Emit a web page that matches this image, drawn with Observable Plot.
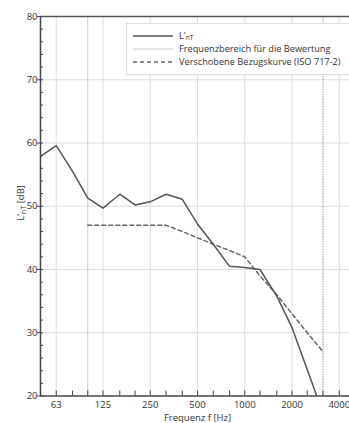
<!DOCTYPE html>
<html>
<head>
<meta charset="utf-8">
<script src="https://cdn.jsdelivr.net/npm/d3@7"></script>
<script src="https://cdn.jsdelivr.net/npm/@observablehq/plot@0.6"></script>
<style>
  html, body { margin: 0; padding: 0; background: #fff; overflow: hidden; }
  #wrap { position: relative; width: 349px; height: 423px; font-family: "Open Sans", sans-serif; }
  #legend { position: absolute; left: 126px; top: 23px; width: 240px; height: 50px; border: 1px solid #dcdcdc; background: #fff; font-size: 9.2px; color: #333; }
  .row { position: absolute; left: 0; height: 13px; display: flex; align-items: center; white-space: nowrap; }
  .row svg { margin-left: 6px; margin-right: 6px; }
  sub { font-size: 6.5px; vertical-align: -1px; }
</style>
</head>
<body>
<div id="wrap"></div>
<script>
const freqs = [50, 63, 80, 100, 125, 160, 200, 250, 315, 400, 500, 630, 800, 1000, 1250, 1600, 2000, 2500, 3150];
const lnt   = [57.9, 59.6, 55.5, 51.3, 49.7, 51.9, 50.2, 50.7, 51.9, 51.1, 47.2, 44.0, 40.5, 40.3, 40.0, 35.8, 30.8, 24.2, 17.2];
const refFreqs = [100, 125, 160, 200, 250, 315, 400, 500, 630, 800, 1000, 1250, 1600, 2000, 2500, 3150];
const refVals  = [47, 47, 47, 47, 47, 47, 46, 45, 44, 43, 42, 39, 36, 33, 30, 27];
const octaveTicks = [63, 125, 250, 500, 1000, 2000, 4000];
const thirdTicks = [50, 63, 80, 100, 125, 160, 200, 250, 315, 400, 500, 630, 800, 1000, 1250, 1600, 2000, 2500, 3150, 4000, 5000];
const yMajor = [20, 30, 40, 50, 60, 70, 80];
const yMinor = d3.range(20, 81, 2);
const yGrid = [30, 40, 50, 60, 70];
const rangeLimits = [100, 3150];
const xTitle = "Frequenz f [Hz]";

const lntData = freqs.map((f, i) => ({f, v: lnt[i]}));
const refData = refFreqs.map((f, i) => ({f, v: refVals[i]}));

const chart = Plot.plot({
  width: 349,
  height: 423,
  marginLeft: 40,
  marginRight: -5,
  marginTop: 16,
  marginBottom: 27.5,
  style: {fontFamily: "Open Sans, sans-serif", fontSize: "9px", color: "#333", background: "transparent"},
  x: {type: "log", domain: [50, 5000]},
  y: {domain: [20, 80]},
  marks: [
    Plot.ruleX(octaveTicks, {stroke: "#dedede", strokeWidth: 1}),
    Plot.ruleY(yGrid, {stroke: "#dedede", strokeWidth: 1}),
    Plot.ruleX([rangeLimits[0]], {stroke: "#cbcbcb", strokeWidth: 1}),
    Plot.ruleX([rangeLimits[1]], {stroke: "#9a9a9a", strokeWidth: 1, strokeDasharray: "1.5,1"}),
    Plot.line(refData, {x: "f", y: "v", stroke: "#666", strokeWidth: 1.5, strokeDasharray: "4,3"}),
    Plot.line(lntData, {x: "f", y: "v", stroke: "#555", strokeWidth: 1.5, clip: true}),
    Plot.ruleY([80], {stroke: "#555", strokeWidth: 1.5}),
    Plot.ruleY([20], {stroke: "#444", strokeWidth: 1.5}),
    Plot.ruleX([50], {stroke: "#444", strokeWidth: 1.5}),
    Plot.axisX(thirdTicks, {tickSize: -5, tickFormat: () => "", label: null, stroke: "#444"}),
    Plot.text(octaveTicks, {x: d => d, y: () => yMajor[0], dy: 9, text: d => String(d), fill: "#333", fontSize: 9.5}),
    Plot.text([xTitle], {frameAnchor: "bottom", dy: 24.5, text: d => d, fill: "#333", fontSize: 9.5}),
    Plot.axisY(yMinor, {tickSize: -3, tickFormat: () => "", label: null, stroke: "#444"}),
    Plot.axisY(yMajor, {tickSize: 3, tickPadding: 0, label: null, stroke: "#444", fill: "#333", fontSize: 9.5})
  ]
});

const svg = d3.select(chart);
const yl = svg.append("text")
  .attr("transform", "translate(24,203) rotate(-90)")
  .attr("text-anchor", "middle")
  .attr("font-family", "Open Sans, sans-serif")
  .attr("font-size", "9.5px")
  .attr("fill", "#333");
yl.append("tspan").text("L'");
yl.append("tspan").attr("font-size", "7px").attr("dy", "2").text("nT");
yl.append("tspan").attr("dy", "-2").text(" [dB]");

const wrap = document.getElementById("wrap");
wrap.appendChild(chart);

const legendItems = [
  {label: "L'<sub>nT</sub>", stroke: "#555", dash: null, w: 1.5},
  {label: "Frequenzbereich für die Bewertung", stroke: "#cbcbcb", dash: null, w: 1},
  {label: "Verschobene Bezugskurve (ISO 717-2)", stroke: "#666", dash: "4,3", w: 1.5}
];
const legend = document.createElement("div");
legend.id = "legend";
legendItems.forEach((it, i) => {
  const row = document.createElement("div");
  row.className = "row";
  row.style.top = (5 + i * 13) + "px";
  row.innerHTML = `<svg width="40" height="6"><line x1="0" x2="40" y1="3" y2="3" stroke="${it.stroke}" stroke-width="${it.w}" ${it.dash ? `stroke-dasharray="${it.dash}"` : ""}/></svg><span>${it.label}</span>`;
  legend.appendChild(row);
});
wrap.appendChild(legend);
</script>
</body>
</html>
